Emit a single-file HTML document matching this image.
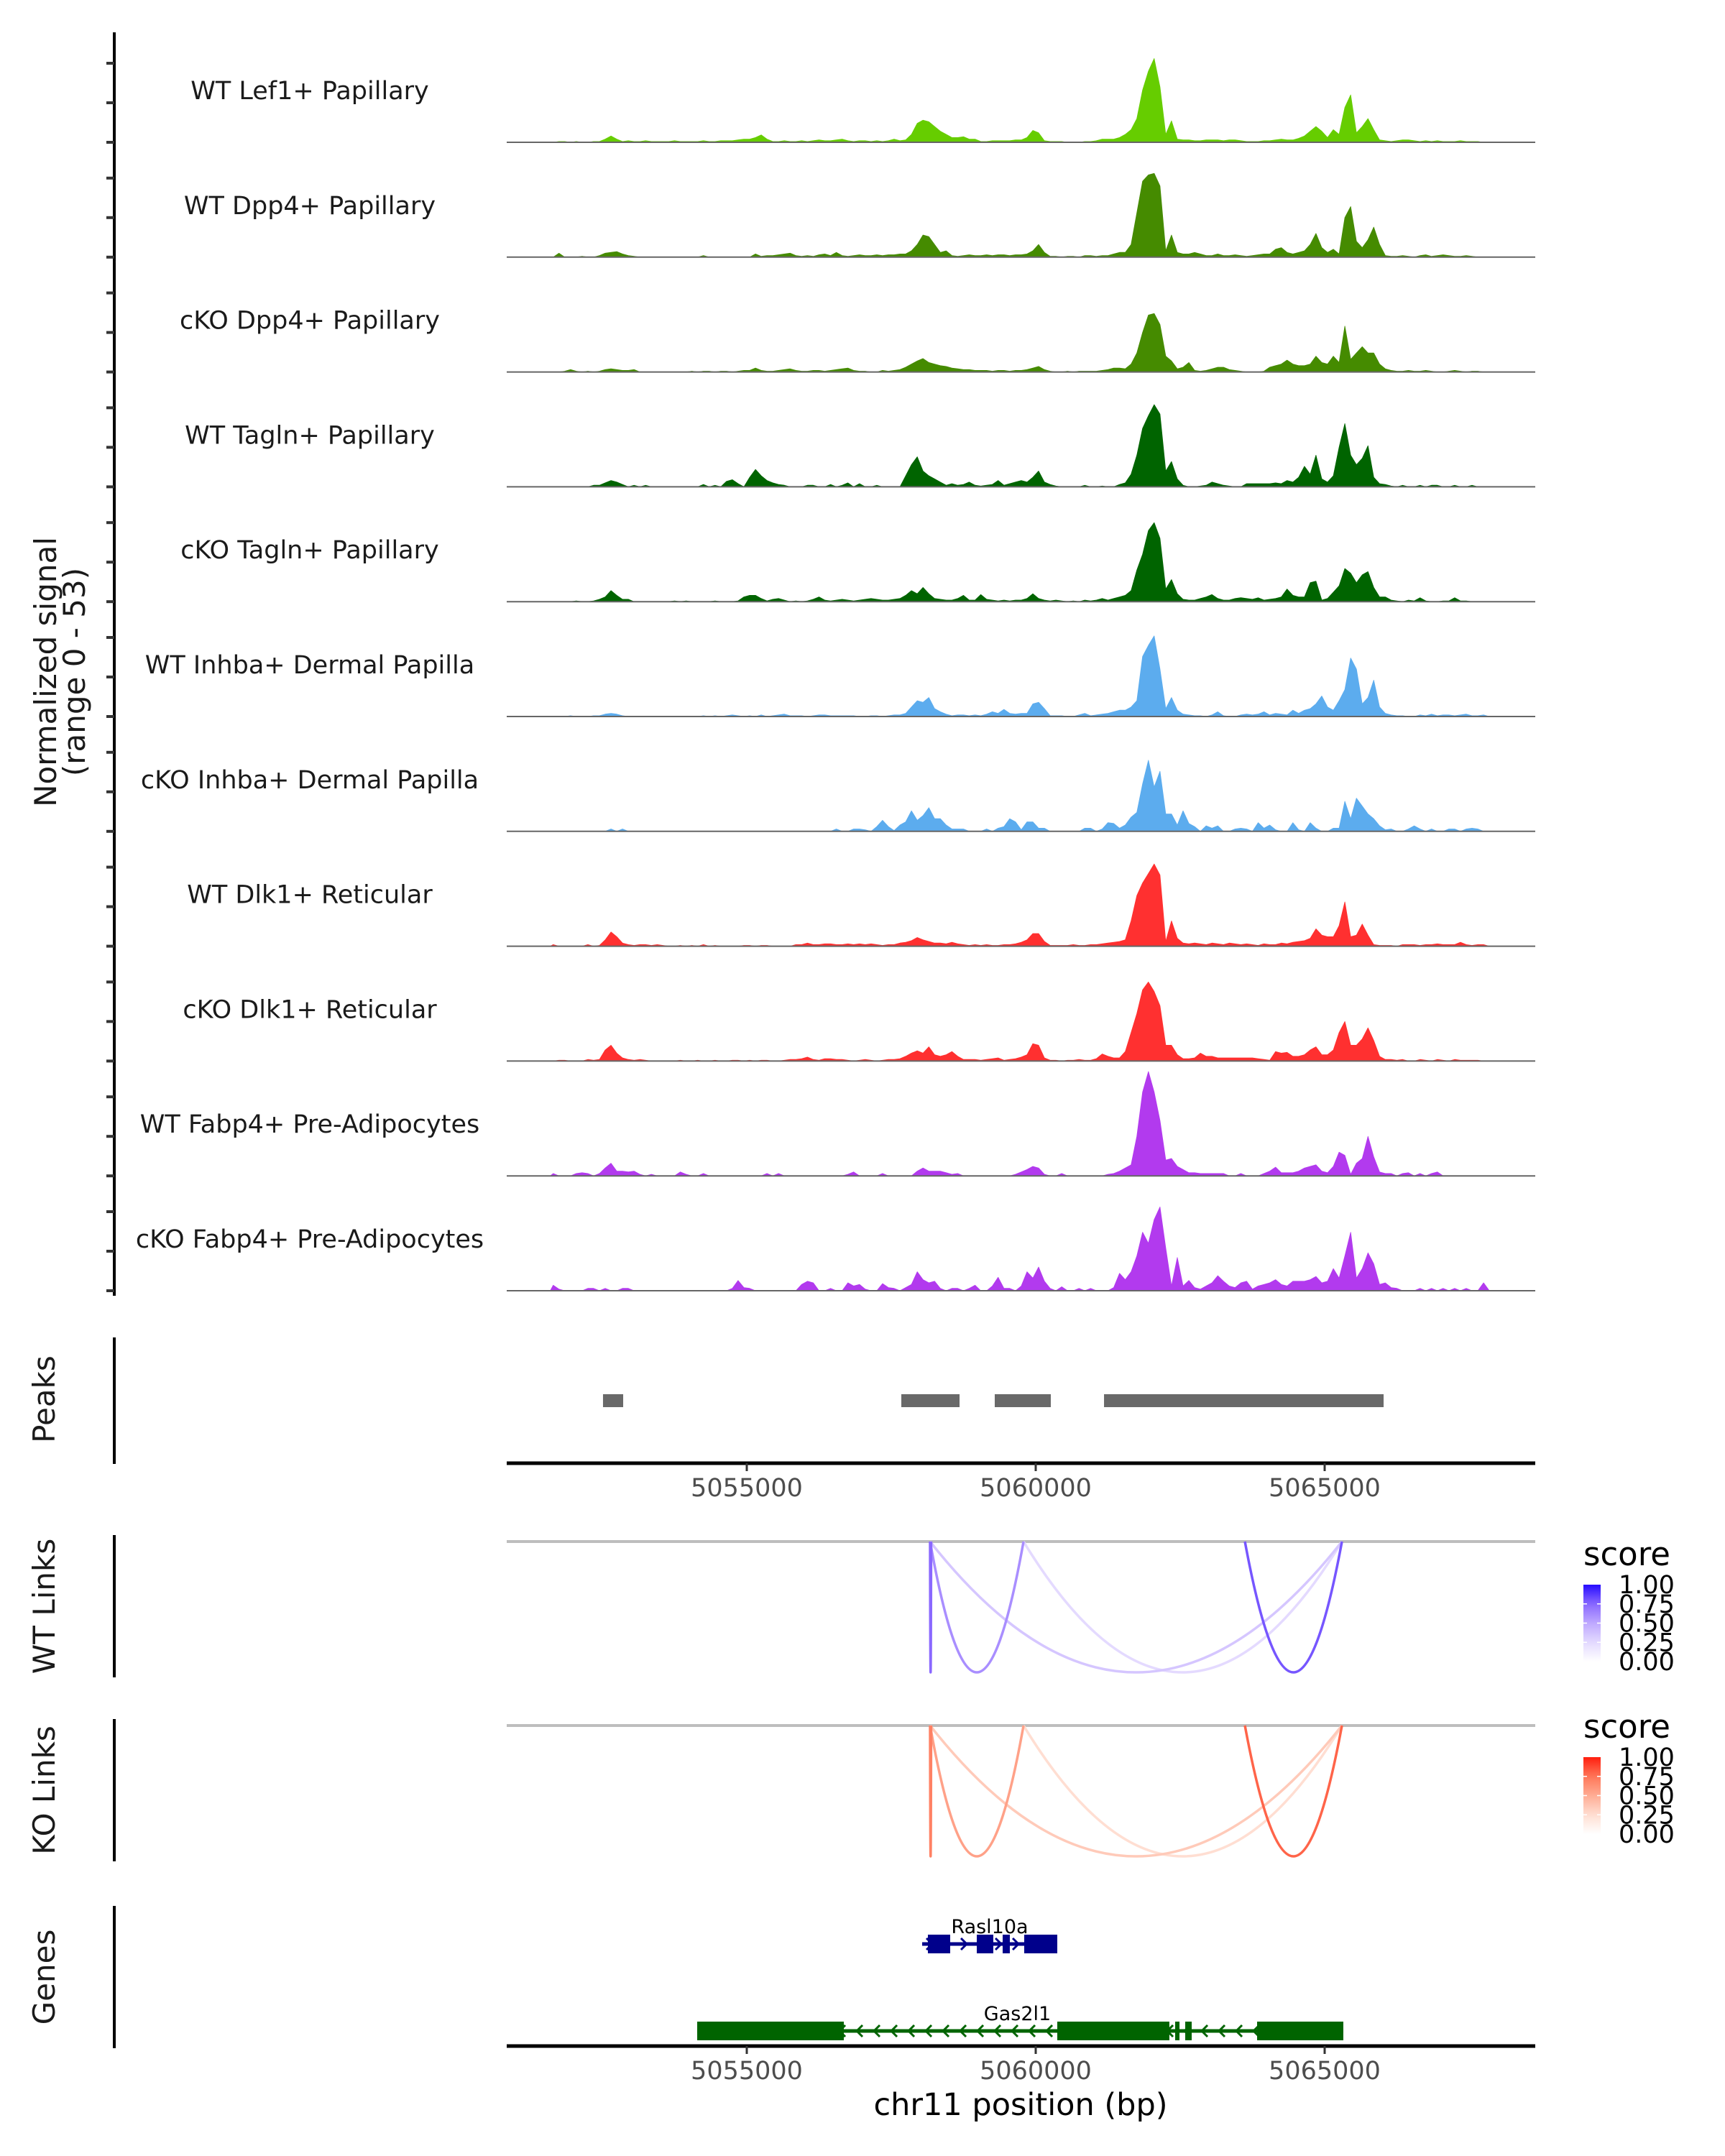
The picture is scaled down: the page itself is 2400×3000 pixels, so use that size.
<!DOCTYPE html>
<html><head><meta charset="utf-8"><style>
html,body{margin:0;padding:0;background:#fff;}
svg{display:block;font-family:"DejaVu Sans","Liberation Sans",sans-serif;}
</style></head><body>
<svg id="fig" xmlns="http://www.w3.org/2000/svg" width="2400" height="3000" viewBox="0 0 2400 3000">
<g id="tracks"></g>
<g id="peaks"></g>
<g id="links"></g>
<g id="genes"></g>
<text transform="translate(78,935) rotate(-90)" text-anchor="middle" font-size="42" fill="#1a1a1a">Normalized signal</text>
<text transform="translate(118,935) rotate(-90)" text-anchor="middle" font-size="42" fill="#1a1a1a">(range 0 - 53)</text>
<text transform="translate(76,1947) rotate(-90)" text-anchor="middle" font-size="42" fill="#1a1a1a">Peaks</text>
<text transform="translate(76,2235) rotate(-90)" text-anchor="middle" font-size="42" fill="#1a1a1a">WT Links</text>
<text transform="translate(76,2491) rotate(-90)" text-anchor="middle" font-size="42" fill="#1a1a1a">KO Links</text>
<text transform="translate(76,2751) rotate(-90)" text-anchor="middle" font-size="42" fill="#1a1a1a">Genes</text>
<text x="1420" y="2943" text-anchor="middle" font-size="43" fill="#000">chr11 position (bp)</text>
</svg>
<script>
const trackNames=["WT Lef1+ Papillary","WT Dpp4+ Papillary","cKO Dpp4+ Papillary","WT Tagln+ Papillary","cKO Tagln+ Papillary","WT Inhba+ Dermal Papilla","cKO Inhba+ Dermal Papilla","WT Dlk1+ Reticular","cKO Dlk1+ Reticular","WT Fabp4+ Pre-Adipocytes","cKO Fabp4+ Pre-Adipocytes"];
const trackColors=["#66CD00","#458B00","#458B00","#006400","#006400","#5CACEE","#5CACEE","#FF3030","#FF3030","#B23AEE","#B23AEE"];
const binStart=5051600, binSize=100;
const sigLef1WT=[0,0.5,0.5,0,0.5,0,0,0.5,0.5, 2,4,2, 0.5,1,0.5,0.5,1,0.5,0.5,0.5, 0.5,1,0.5,0.5,0.5,0.5,1,0.5,0.5,1, 1,1,1.5,2, 2,3,4.7,2, 0.5,0.5,1,0.5,0.5,1,0.5,1, 1.5,1,1,1.5,2,1, 0.5,1,1,0.5,1,0.5,1,2,1,1.5, 5,12,14,13,10,7,5,3,3,3.5,2, 2,0.5,0.5,1,1,1,1,1.5,1.5, 3,7.5,6,1, 0.5,0.5,0.5,0,0,0,0.5,0.5,1,2, 2,2,3,5,8,15,33,45,53,35,5,13.6,2, 1.5,1.5,1,1,1.5,1.5,1.5,1,1.5,1.5,1,0.5,0.5,0.5,1,1,1.5,2,1.5,1.5,2.5, 4,7,10,7,3,8,5,22,30,6,10,15,8,1.5, 1,0.5,1,1.5,1.5,1,0.5,1,0.5,1,0.5,0.5,0.5,1,0.5,0.5,0.5,0,0];
const sigDpp4WT=[0,2.5,0,0,0,0.5,0,0,1, 2.5,3,3.5,2, 1,0.5,0,0,0,0,0,0,0,0,0,0,0, 1,0,0,0,0,0,0,0,0, 2,0.5,1,1,1.5,2,2.5,1,0.5,1,0.5,1.5,2,1,3,1,0.5,1,1.5,1,1,1.5,1,1.5,1.5,2, 2,4,8,14,13,8,3,4,1, 0.5,1,1.5,1,1,1.5,1,1.5,1.5,1,1.5,1.5,2, 4,8,3, 0.5,0.5,0,0.5,0.5,0,1,1,0.5,1, 1,2,3,3,8,28,48,52,53,45,4,14,3,2,2,3,2,1,1,2,1, 1,1.5,1,0.5,1,1.5,2, 2,5,6,3, 2,3,4,8,15,6,3,5,2,25,32,10,6,11,19,8, 1,0.5,0.5,1,0.5,0,1,1.5,0.5,1,1.5,1,0.5,0.5,1,0.5,0,0,0];
const sigDpp4KO=[0,0,0.5,1.5,0.5,0,0.5,0,0.5, 1.5,2,1.5,1,1,1.5, 0,0,0,0,0,0,0,0,0,0.5,0,0.5,0.5,0,0.5,0.5,0,0.5,1, 1,2.5,1,0.5,0.5,1,1.5,2,1,0.5,0.5,1,1,0.5,1,1.5,2,2.5,1,0.5,0.5,0,0,1,0.5,1,1.5, 3,5,7,8.5,6,5,4,3.5,2.5,2,1.5,1.5, 1,1,1,0.5,1,1,0.5,1,1,1.5,2.5,3.5,1.5,0.5,0,0,0.5,0,0.5,0.5,0.5,0.5,1, 1.5,2.5,2.5,2,5,12,25,36,37,30,10,7,2,3,6,1, 0.5,1,2,3,3,1.5,1,0.5,0,0,0,0.5,3, 4,5,7.5,5,4,4,5,10,6,5,10,6,29,8,12,16,12,12,5,2, 1,0.5,0.5,1,0.5,0.5,1,0.5,0,0,0.5,1,0.5,0,0.5,0.5,0,0];
const sigTaglnWT=[0,0,0,0,0,0,0,1, 1,2.5,4,3,1.5, 0,1,0,1,0,0,0,0,0,0,0,0,0, 1.5,0,1,0,3.5,4.5,2,0,6,11,7,4,2.5,1.5,1,0, 0,0,1,1,0,0,1.5,0,1,2.5,0,2,0,0,1,0,0,0,0, 7,14,19,10,7,5,3, 1,2,1,1.5,3,1,0.5,1,1.5,4,1,2,3,4,3,6,10,3,1.5,0.5, 0,0,0,0,1,0,0,0.5,0,0,1.5,2.5, 8,20,37,45,52,46,10,16,5, 1,0,0,0.5,1,3,2,1,0.5,0,0,2,2,2,2,2,2.5,2, 4,3,6,13,8,20,5,3,7,25,40,20,14,18,26,6,2,1.5,0.5, 0,1,0,0,1,0,1,1,0,0,1,0,0,1,0,0,0];
const sigTaglnKO=[0,0,0,0,0.5,0,0,0.5,1.5, 3,7,4,1.5,1.5, 0,0,0,0,0,0,0,0.5,0,0.5,0,0,0,0,0.5,0,0,0,0.5, 3,4,4,2,0.5,1.5,2,1,0,0.5,0,0.5,1.5,3,1,0.5,1,1.5,1,0.5,1,1.5,2,1.5,1,1,1.5,2, 4,7,5,9,5,2,1.5,1,1,2,4,1,1,4.5,1.5, 1,0.5,1,0.5,1,1,2,5,2,1,0.5,1,0.5,0,0.5,0,1, 0.5,1,2,1,2,3,4,7,20,30,45,50,40,8,14,5,1.5, 1,1,2,3,4.5,2,1,1,2,2.5,2,1.5,2.5,1,1.5,2,3, 8,4,3,3,12,13,1,2,6,10,21,18,12,17,19,9,3,3,1, 0.5,0,1,0.5,2.5,0.5,0,0,0.5,0.5,2.5,0.5,0.5,0,0,0,0];
const sigInhbaWT=[0,0,0,0.5,0,0,0,0.5,0.5, 1.5,2,1.5,0.5, 0,0,0,0,0,0,0,0,0,0,0,0,0,0.5,0,0.5,0,0.5,1,0.5,0, 0.5,0,1,0,0.5,1,1.5,0.5,0.5,0.5,0,0.5,1,1,0.5,0.5,0.5,0.5,0.5,0,0,0.5,0.5,0,0.5,1,1, 2,6,10,9,12,5,3,1.5,0.5, 1,1,0.5,1,0.5,1.5,3,2,4.5,2,1.5,2,2,8,9,5,0.5,0.5,0.5,0,0, 1,2,0.5,1,1.5,2,3,4,4,6,10,38,45,51,30,5,12,4,1.5, 1,0.5,0.5,0,1,3,0.5,0,0,1,1.5,1,1.5,3,1,2,1.5,1,4,2, 4,5,8,13,6,4,10,17,37,30,8,12,23,6,2, 1,0.5,0.5,0,0,1,0.5,1.5,0.5,1,1,0.5,1,1.5,0.5,0.5,1,0];
const sigInhbaKO=[0,0,0,0,0,0,0,0,0,0, 1.5,0,1.5, 0,0,0,0,0,0,0,0,0,0,0,0,0,0,0,0,0,0,0,0,0,0,0,0,0,0,0,0,0,0,0,0,0,0,0,0, 1.5,0,0,1.5,1.5,1,0,3,7,3,0.5,4, 6,13,7,10,15,8,8,4,1.5, 1.5,1.5,0,0,0,1.5,0,2,3,8,6,1,6,6,2,2,0,0,0,0,0, 0,2,2,0,1.5,5.5,5,2,4,9,12,30,45,28,38,11,11,4,13, 5,3,0,3.5,2,3.5,0,0,1.5,2,1.5,0,5.5,2,4,1,0,0,5.5,1, 0,5.5,2,0,0,2,2,19,8,21,16,11,8,3.5,1, 1.5,0,0,1.5,3.5,1.5,0,1.5,0,0,1.5,1.5,0,1.5,2,1.5,0,0];
const sigDlk1WT=[1,0,0,0,0,0,1,0,0.5, 4,9,6,2,1,0.5, 1,1,0.5,1,0.5,0,0,0.5,0,0.5,0,1,0,0.5,0,0, 0,0,0.5,0.5,0,0.5,0.5,0,0,0,0,1,1,2,1,1,1.5,1.5,1,1,1.5,1,1.5,1,1.5,1,0.5,1,1,2, 2.5,3.5,5.5,4,3,2,2,1.5,2.5,1.5, 1,0.5,1,0.5,1,0.5,0.5,1,1,1.5,2.5,4,8,8,3,0.5,0.5,0.5,0.5,1, 0.5,0.5,1,1,1.5,2,2.5,3,4,16,32,40,46,52,45,3,16,5,2, 1.5,2,1.5,1,2,1.5,1,2,1.5,1,1.5,1,0.5,1.5,1,1,2,1.5,2.5,3, 3.5,5,11,7,6,6,13,28,6,7,14,7,1,0.5,0.5,0.5, 0,1,1,1,0.5,1,1,1.5,1,1,1,2.5,1,0.5,1,1,0];
const sigDlk1KO=[0,0.5,0.5,0,0,0,1,0.5,1, 7,10,5,2,1, 0.5,1,0.5,0,0,0,0,0,0.5,0,0,0.5,0,0,0.5,0,0, 0.5,0.5,0,0.5,0,0.5,0.5,0,0,0.5,1,1,1.5,2.5,1,0.5,1.5,1.5,1,1,0.5,0,0.5,1,0.5,0,0.5,1,1,1.5, 3,5,6.5,5,9,4,3,4,6,3,1,1,1,0.5,1,1.5,2, 0.5,1,1.5,2.5,4,11,10,2,0.5,0.5,0,0.5,0.5, 1,0.5,0.5,1.5,4.5,3,2,2,6,18,30,45,50,44,35,10,10,4,1.5,1.5, 2,5,3,3,2,2,2,2,2,2,2,1.5,1,0.5,6,5,5.5,3,3,4, 7,9,4,4,7,18,25,10,10,14,21,13,3,1,1, 0.5,1,0,0,1,0.5,0,1,0.5,0,1,0.5,0.5,0.5,0.5,0,0];
const sigFabp4WT=[1.5,0,0,0,1.5,2,1.5,0,1.5, 5,8,3,3,2.5, 3,1,0,1,0,0,0,0,2.5,1,0,0,1.5,0, 0,0,0,0,0,0,0,0,0,1.5,0,1.5,0,0,0,0,0,0,0,0,0,0,0,1,2.5,0,0,0,0,1.5,0,0,0, 0,0,3,5,3,3,3,2,1,1.5, 0,0,0,0,0,0,0,0,0,1,2.5,4,6,5,1,0,0,1.5,0,0, 0,0,0,0,0,1,1.5,3,5,7,25,53,66,53,35,10,11,6,4,2, 2,1.5,1.5,1.5,1.5,1.5,0,0,1.5,0,0,0,1.5,3,5.5,2,2,2,3, 5,6,7,3,2,6,15,13,1,8,11,25,12,2.5,1.5,1.5, 0,1.5,2,0,1.5,0,1.5,2.5,0,0,0,0,0,0,0,0,0];
const sigFabp4KO=[3.5,1,0,0,0,0,1.5,1.5,0, 1.5,0,0,1.5,1.5,0, 0,0,0,0,0,0,0,0,0,0,0,0,0,0,0,0,1.5, 6.5,2,1.5,0,0,0,0,0,0,0,0,4,6,5,0,0,1.5,0,0,5,3,4,1,0,0,4.5,2,1.5,0, 2,4,12,7,5,6,1.5,0,1.5,1.5,0,1.5,3.5,0,0, 3,8.5,1.5,1.5,0,3,12,8,15,6,1.5,0,2.5,0,0,1.5,0,1.5,0,0,0, 2,11,7,12,22,37,30,45,53,27,3,21,3,6.5,2, 1,3,5,9.5,6,3,2,5,6,1,3,4,5,7,4,3,6,6, 6,7,9,5,6,14,8,22,37,8,14,24,17,4,5,2,1.5, 0,0,0,1.5,0,1.5,0,1.5,0,1.5,0,1.5,0,0,5,0];
const signals=[sigLef1WT,sigDpp4WT,sigDpp4KO,sigTaglnWT,sigTaglnKO,sigInhbaWT,sigInhbaKO,sigDlk1WT,sigDlk1KO,sigFabp4WT,sigFabp4KO];
const peakStarts=[5052512,5057674,5059291,5061182];
const peakEnds=[5052861,5058682,5060261,5066020];
const xTicks=[5055000,5060000,5065000];
const linkStarts=[5058172,5058172,5058172,5059789,5063620];
const linkEnds=[5058190,5059789,5065299,5065299,5065299];
const wtLinkScores=[0.75,0.6,0.35,0.25,0.8];
const koLinkScores=[0.7,0.55,0.35,0.25,0.8];
const legendTicks=["1.00","0.75","0.50","0.25","0.00"];

const NS="http://www.w3.org/2000/svg";
function X(g){return 1039+(g-5055000)*0.0804;}
function mk(tag,attrs,parent){const e=document.createElementNS(NS,tag);for(const k in attrs)e.setAttribute(k,attrs[k]);parent.appendChild(e);return e;}
const PX_PER_UNIT=2.2, TRACK0=198, TRACKSTEP=159.8, PLOT_L=705, PLOT_R=2136;

const tg=document.getElementById('tracks');
signals.forEach((arr,t)=>{
  const b=TRACK0+t*TRACKSTEP;
  const g=mk('g',{},tg);
  
  
  const ax=mk('line',{x1:159,x2:159,y1:b-153,y2:b+7,stroke:'#000','stroke-width':4},g);
  
  
  [0,55,110].forEach(d=>{const tk=mk('line',{x1:148,x2:159,y1:b-d,y2:b-d,stroke:'#333','stroke-width':4},g);
    
    });
  const lab=mk('text',{x:431,y:b-60,'text-anchor':'middle','font-size':35,fill:'#1a1a1a'},g);
  lab.textContent=trackNames[t];
  
  
  let d='M'+X(binStart).toFixed(1)+','+b;
  arr.forEach((v,i)=>{const xc=X(binStart+(i+0.5)*binSize),y=b-v*PX_PER_UNIT;
    d+=' L'+xc.toFixed(1)+','+y.toFixed(1);});
  d+=' L'+X(binStart+arr.length*binSize).toFixed(1)+','+b+' Z';
  const area=mk('path',{d:d,fill:trackColors[t],stroke:trackColors[t],'stroke-width':0.8,'stroke-linejoin':'round'},g);
  
  
  const bl=mk('line',{x1:PLOT_L,x2:PLOT_R,y1:b,y2:b,stroke:'#666','stroke-width':2},g);
  
  
});

const pg=document.getElementById('peaks');
const pax=mk('line',{x1:159,x2:159,y1:1861,y2:2037,stroke:'#000','stroke-width':4},pg);


peakStarts.forEach((s,i)=>{const r=mk('rect',{x:X(s),y:1940,width:X(peakEnds[i])-X(s),height:18,fill:'#696969'},pg);
  
  });
function xAxis(y,parent){
  const l=mk('line',{x1:PLOT_L,x2:PLOT_R,y1:y,y2:y,stroke:'#000','stroke-width':5},parent);
  
  
  xTicks.forEach(g=>{const tk=mk('line',{x1:X(g),x2:X(g),y1:y,y2:y+11,stroke:'#333','stroke-width':3},parent);
    
    
    const tx=mk('text',{x:X(g),y:y+46,'text-anchor':'middle','font-size':35,fill:'#4d4d4d'},parent);
    tx.textContent=String(g);
    
    });
}
xAxis(2036,pg);

const lg=document.getElementById('links');
const bluePal=[[255,255,255],[228,218,255],[190,168,255],[138,104,255],[38,12,255]];
const redPal=[[255,255,255],[255,222,210],[255,172,148],[255,118,88],[255,30,14]];
function pal(p,s){const f=Math.max(0,Math.min(1,s))*4;const i=Math.min(3,Math.floor(f)),r=f-i;
  return 'rgb('+[0,1,2].map(k=>Math.round(p[i][k]+(p[i+1][k]-p[i][k])*r)).join(',')+')';}
function linkPanel(top,bottom,scores,p,legY,name){
  const g=mk('g',{},lg);
  
  
  const ax=mk('line',{x1:159,x2:159,y1:top-9,y2:bottom+7,stroke:'#000','stroke-width':4},g);
  
  
  const bl=mk('line',{x1:PLOT_L,x2:PLOT_R,y1:top,y2:top,stroke:'#bebebe','stroke-width':4},g);
  
  
  const order=scores.map((s,i)=>i).sort((a,b)=>scores[a]-scores[b]);
  order.forEach(i=>{const x1=X(linkStarts[i]),x2=X(linkEnds[i]);const cy=top+2*(bottom-top);
    const pth=mk('path',{d:'M'+x1+','+top+' Q'+((x1+x2)/2)+','+cy+' '+x2+','+top,fill:'none',stroke:pal(p,scores[i]),'stroke-width':3.5},g);
    
    });
  const gid='grad'+name;
  const defs=mk('defs',{},g);
  const gr=mk('linearGradient',{id:gid,x1:0,y1:0,x2:0,y2:1},defs);
  for(let k=0;k<=10;k++){mk('stop',{offset:k/10,'stop-color':pal(p,1-k/10)},gr);}
  const st=mk('text',{x:2203,y:legY,'font-size':45,fill:'#000'},g);
  st.textContent='score';
  
  
  const by=legY+27;
  const bar=mk('rect',{x:2203,y:by,width:24,height:107,fill:'url(#'+gid+')'},g);
  
  
  legendTicks.forEach((t,k)=>{const y=by+k*26.75;
    if(k>0&&k<4){const tk=mk('line',{x1:2203,x2:2208,y1:y,y2:y,stroke:'#fff','stroke-width':1.5},g);
      
      
      const tk2=mk('line',{x1:2222,x2:2227,y1:y,y2:y,stroke:'#fff','stroke-width':1.5},g);
      
      }
    const tx=mk('text',{x:2252,y:y+12,'font-size':35,fill:'#000'},g);
    tx.textContent=t;
    
    });
}
linkPanel(2145,2327,wtLinkScores,bluePal,2178,'wt-links');
linkPanel(2401,2583,koLinkScores,redPal,2418,'ko-links');

const gg=document.getElementById('genes');
const gax=mk('line',{x1:159,x2:159,y1:2652,y2:2850,stroke:'#000','stroke-width':4},gg);


function gene(name,col,y,start,end,exS,exE,dir,label){
  const g=mk('g',{},gg);
  
  
  mk('line',{x1:X(start),x2:X(end),y1:y,y2:y,stroke:col,'stroke-width':5},g);
  for(let x=X(start)+10;x<X(end)-5;x+=24){
    const d=dir>0?'M'+(x-4)+','+(y-8)+' L'+(x+4)+','+y+' L'+(x-4)+','+(y+8):'M'+(x+4)+','+(y-8)+' L'+(x-4)+','+y+' L'+(x+4)+','+(y+8);
    mk('path',{d:d,fill:'none',stroke:col,'stroke-width':3},g);}
  exS.forEach((s,i)=>{const r=mk('rect',{x:X(s),y:y-13,width:Math.max(4,X(exE[i])-X(s)),height:26,fill:col},g);
    
    });
  const t=mk('text',{x:(X(start)+X(end))/2+label,y:y-15,'text-anchor':'middle','font-size':27,fill:'#000'},g);
  t.textContent=name;
  
  
}
gene('Rasl10a','#00008B',2705,5058035,5060373,[5058134,5058980,5059428,5059801],[5058520,5059266,5059552,5060373],1,0);
gene('Gas2l1','#006400',2826,5054142,5065323,[5054142,5060373,5062413,5062587,5063831],[5056679,5062313,5062488,5062699,5065323],-1,-4);
xAxis(2847,gg);
</script>
</body></html>
